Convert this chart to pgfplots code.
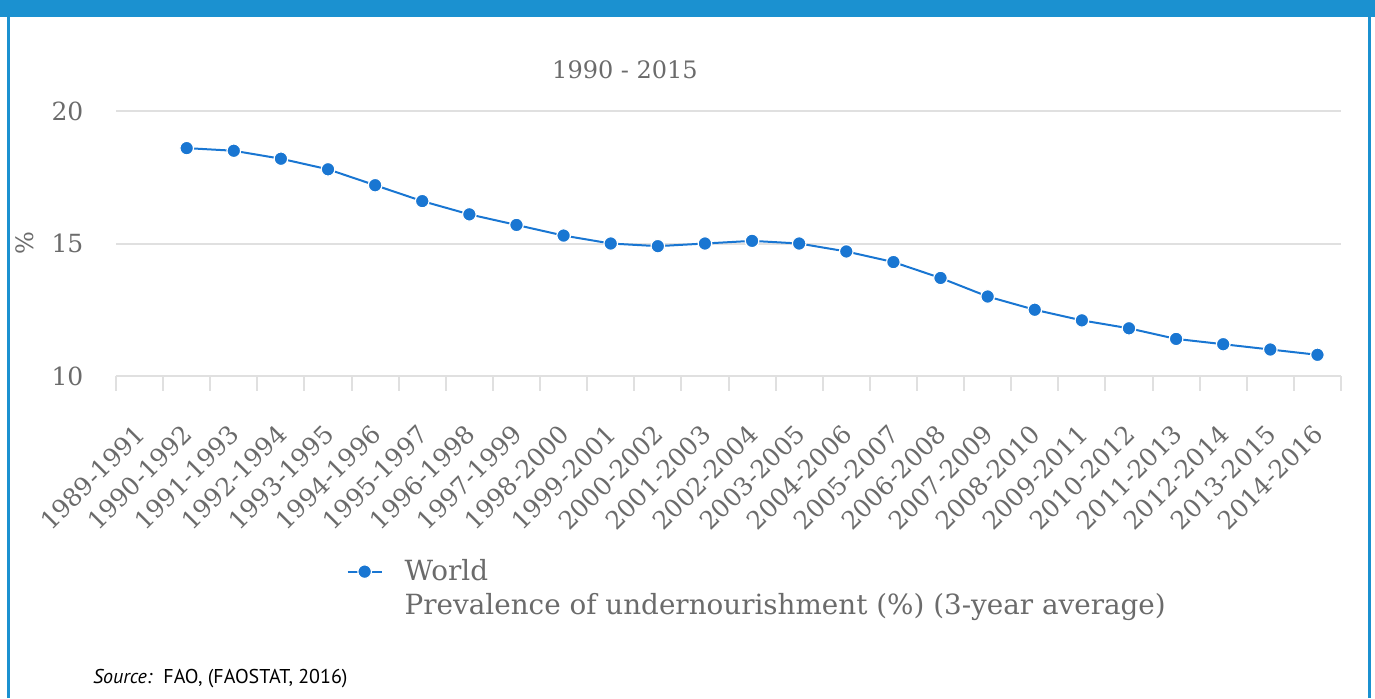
\documentclass[border=0pt]{standalone}
\usepackage{fontspec}
\setmainfont{DejaVu Serif}
\newfontfamily\srcfont{PT Sans}
\usepackage{pgfplots}
\pgfplotsset{compat=1.18}
\definecolor{frameblue}{HTML}{1B91D0}
\definecolor{lineblue}{HTML}{1976D2}
\definecolor{txtgray}{HTML}{6B6B6B}
\definecolor{gridgray}{HTML}{E0E0E0}
\begin{document}
\begin{tikzpicture}[font=\fontsize{12}{14}\selectfont]
\useasboundingbox (-58pt,-161pt) rectangle (629.5pt,188pt);
\fill[frameblue] (-58pt,179.5pt) rectangle (629.5pt,188pt);
\draw[frameblue, line width=1.5pt] (-53.5pt,-161pt) -- (-53.5pt,180pt);
\draw[frameblue, line width=1.5pt] (626.5pt,-161pt) -- (626.5pt,180pt);
\begin{axis}[
  width=612.5pt, height=132.5pt, scale only axis,
  xmin=-0.5, xmax=25.5, ymin=10, ymax=20,
  xtick={0,...,25},
  xticklabels={1989-1991,1990-1992,1991-1993,1992-1994,1993-1995,1994-1996,1995-1997,1996-1998,1997-1999,1998-2000,1999-2001,2000-2002,2001-2003,2002-2004,2003-2005,2004-2006,2005-2007,2006-2008,2007-2009,2008-2010,2009-2011,2010-2012,2011-2013,2012-2014,2013-2015,2014-2016},
  major x tick style={draw=none},
  minor xtick={-0.5,0.5,...,25.5},
  minor x tick style={gridgray, line width=1pt},
  minor tick length=7.5pt,
  tick align=outside,
  ytick={10,15,20},
  ytick style={draw=none},
  ymajorgrids, grid style={gridgray, line width=1pt},
  axis x line*=bottom, axis y line*=left,
  y axis line style={draw=none},
  x axis line style={gridgray, line width=1pt},
  tick label style={text=txtgray},
  xticklabel style={yshift=-20pt, xshift=3pt, rotate=45, anchor=east, font=\fontsize{12.5}{14}\selectfont},
  yticklabel style={xshift=-8.5pt, font=\fontsize{12.5}{14}\selectfont},
  /pgf/number format/assume math mode=true,
  legend style={draw=none, fill=none, at={(0.183,-0.661)}, anchor=north west, text=txtgray, row sep=1pt,
    font=\fontsize{13.9}{16}\selectfont,
    /tikz/every odd column/.append style={column sep=9pt}},
  legend cell align=left,
]
\addplot[lineblue, line width=1pt, mark=*, mark size=3.4pt, mark options={fill=lineblue, draw=white, line width=0.6pt}] coordinates {
(1,18.6)(2,18.5)(3,18.2)(4,17.8)(5,17.2)(6,16.6)(7,16.1)(8,15.7)(9,15.3)(10,15.0)
(11,14.9)(12,15.0)(13,15.1)(14,15.0)(15,14.7)(16,14.3)(17,13.7)(18,13.0)(19,12.5)
(20,12.1)(21,11.8)(22,11.4)(23,11.2)(24,11.0)(25,10.8)};
\addlegendentry{World}
\addlegendimage{empty legend}
\addlegendentry{Prevalence of undernourishment (\%) (3-year average)}
\end{axis}
\node[text=txtgray] at (254.5pt,153pt) {1990 - 2015};
\node[text=txtgray, rotate=90] at (-45.5pt,66.5pt) {\%};
\node[anchor=base west, font=\srcfont\fontsize{10}{12}\selectfont] at (-15pt,-153.5pt) {\textit{Source:}\ \ FAO, (FAOSTAT, 2016)};
\end{tikzpicture}
\end{document}
